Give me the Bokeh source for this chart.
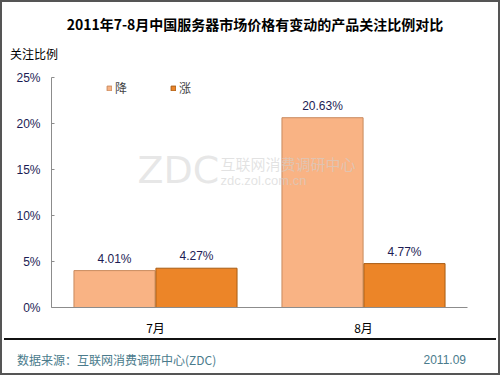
from bokeh.plotting import figure
from bokeh.layouts import column
from bokeh.models import (ColumnDataSource, FactorRange, NumeralTickFormatter, FixedTicker,
                          Label, Legend, LegendItem, Div)
from bokeh.transform import dodge
from bokeh.core.properties import value
from bokeh.embed import file_html
from bokeh.resources import INLINE

# ---- data ----
months = ["7月", "8月"]
down = [0.0401, 0.2063]   # 降
up = [0.0427, 0.0477]     # 涨
series_names = ["降", "涨"]
y_ticks = [0, 0.05, 0.10, 0.15, 0.20, 0.25]
title_text = "2011年7-8月中国服务器市场价格有变动的产品关注比例对比"
y_title = "关注比例"
source_text = "数据来源：互联网消费调研中心(ZDC)"
date_text = "2011.09"

CJK = "Noto Sans CJK SC"
LAT = "Liberation Sans"
FOOT_COL = "#4a7b8c"

BW = 2          # outer border width
INNER_W = 500 - 2 * BW

# ---- header (title + y-axis title) ----
header_html = (
    f'<div style="position:relative;width:{INNER_W}px;height:67px;margin:0;padding:0;">'
    f'<div style="position:absolute;left:253px;top:13px;transform:translateX(-50%);'
    f'white-space:nowrap;font-family:\'{CJK}\';font-size:14px;font-weight:bold;'
    f'line-height:18px;color:black;">{title_text}</div>'
    f'<div style="position:absolute;left:8px;top:44px;white-space:nowrap;'
    f'font-family:\'{CJK}\';font-size:12px;line-height:16px;color:black;">{y_title}</div>'
    '</div>'
)
top = Div(text=header_html, width=INNER_W, height=67, margin=0,
          styles={"margin": "0", "padding": "0"})

# ---- main chart ----
src = ColumnDataSource(dict(
    month=months, down=down, up=up,
    down_lbl=[f"{v*100:.2f}%" for v in down],
    up_lbl=[f"{v*100:.2f}%" for v in up],
))

FL, FB = 51, 307   # frame left / bottom in picture px
p = figure(width=INNER_W, height=269, x_range=FactorRange(*months, range_padding=0),
           y_range=(0, 0.25), output_backend="svg", toolbar_location=None,
           min_border_left=49, min_border_right=31, min_border_top=8, min_border_bottom=31)
p.x_range.factor_padding = 0
p.outline_line_color = None
p.grid.visible = False
p.background_fill_color = "white"
p.border_fill_color = "white"


def sx(fx):
    return fx - FL


def sy(fy):
    return FB - fy


bw = 0.39
r1 = p.vbar(x=dodge("month", -0.197, range=p.x_range), top="down", width=bw, source=src,
            fill_color="#F9B384", line_color="#C98A5E", line_width=1)
r2 = p.vbar(x=dodge("month", 0.197, range=p.x_range), top="up", width=bw, source=src,
            fill_color="#EC8528", line_color="#A85C14", line_width=1)

lbl_color = "#1c1c54"
p.text(x=dodge("month", -0.197, range=p.x_range), y="down", text="down_lbl", source=src,
       text_align="center", text_baseline="bottom", y_offset=-5,
       text_font=value(LAT), text_font_size="12px", text_color=lbl_color)
p.text(x=dodge("month", 0.197, range=p.x_range), y="up", text="up_lbl", source=src,
       text_align="center", text_baseline="bottom", y_offset=-5,
       text_font=value(LAT), text_font_size="12px", text_color=lbl_color)

ya = p.yaxis[0]
ya.ticker = FixedTicker(ticks=y_ticks)
ya.formatter = NumeralTickFormatter(format="0%")
ya.axis_line_color = "#8c8c8c"
ya.major_tick_line_color = "#8c8c8c"
ya.major_tick_in = 3
ya.major_tick_out = 0
ya.minor_tick_line_color = None
ya.major_label_text_font = LAT
ya.major_label_text_font_size = "12px"
ya.major_label_text_color = lbl_color
ya.major_label_standoff = 11

xa = p.xaxis[0]
xa.axis_line_color = "#8c8c8c"
xa.major_tick_line_color = None
xa.minor_tick_line_color = None
xa.major_label_text_font = CJK
xa.major_label_text_font_size = "12px"
xa.major_label_text_color = "black"
xa.major_label_standoff = 5

leg = Legend(items=[LegendItem(label=series_names[0], renderers=[r1]),
                    LegendItem(label=series_names[1], renderers=[r2])],
             orientation="horizontal", location=(55, 211),
             glyph_width=6, glyph_height=6, label_height=12, label_standoff=3,
             spacing=35, padding=0, margin=0,
             label_text_font=CJK, label_text_font_size="12px",
             border_line_color=None, background_fill_alpha=0)
p.add_layout(leg)

# watermark
wm_col = "#cfcfcf"
p.add_layout(Label(x=sx(137), y=sy(169), x_units="screen", y_units="screen", text="ZDC",
                   text_font="DejaVu Sans", text_font_size="38px", text_color=wm_col,
                   text_alpha=0.5, text_align="left", text_baseline="middle"))
p.add_layout(Label(x=sx(220), y=sy(163), x_units="screen", y_units="screen",
                   text="互联网消费调研中心", text_font=CJK,
                   text_font_size="15px", text_color=wm_col, text_alpha=0.6,
                   text_align="left", text_baseline="middle"))
p.add_layout(Label(x=sx(220), y=sy(180), x_units="screen", y_units="screen",
                   text="zdc.zol.com.cn", text_font=LAT,
                   text_font_size="13px", text_color=wm_col, text_alpha=0.6,
                   text_align="left", text_baseline="middle"))

# ---- footer ----
footer_html = (
    f'<div style="position:relative;width:{INNER_W}px;height:35px;margin:0;padding:0;">'
    '<div style="position:absolute;left:2px;top:0px;width:492px;height:0;'
    'border-top:2px solid #111111;"></div>'
    f'<div style="position:absolute;left:15px;top:14px;white-space:nowrap;'
    f'font-family:\'{CJK}\';font-size:12px;line-height:16px;color:{FOOT_COL};">{source_text}</div>'
    f'<div style="position:absolute;right:32px;top:14px;white-space:nowrap;'
    f'font-family:\'{LAT}\';font-size:12px;line-height:16px;color:{FOOT_COL};">{date_text}</div>'
    '</div>'
)
foot = Div(text=footer_html, width=INNER_W, height=35, margin=0,
           styles={"margin": "0", "padding": "0"})

layout = column(top, p, foot, spacing=0,
                styles={"border": f"{BW}px solid #555555", "background-color": "white"})

out = file_html(layout, INLINE)
open("out.html", "w").write(out)
